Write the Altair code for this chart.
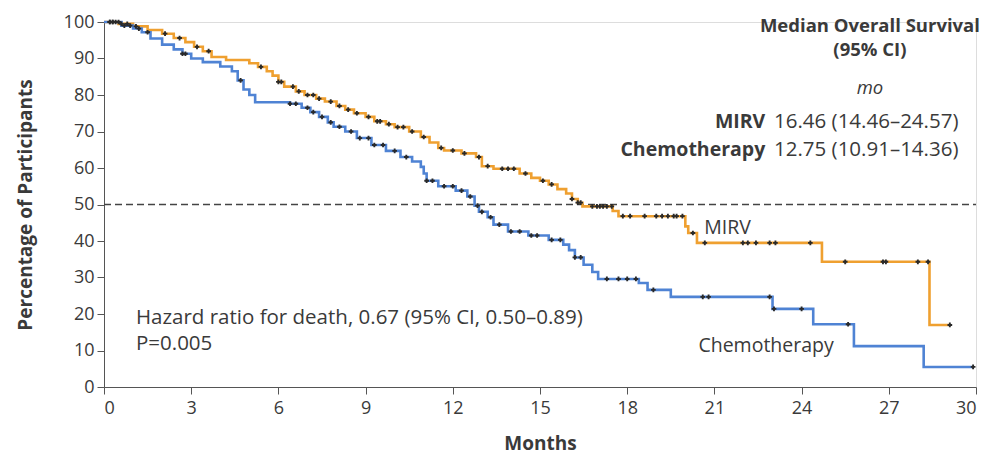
import altair as alt
import pandas as pd
import bisect

# ---- Kaplan-Meier step data (months, % surviving) ----
mirv_t = [0, 0.5, 1.0, 1.5, 2.0, 2.4, 2.8, 3.1, 3.4, 3.7, 4.2, 5.0, 5.3, 5.6, 5.8, 6.0, 6.2, 6.6,
          6.9, 7.3, 7.6, 8.0, 8.3, 8.6, 9.0, 9.3, 9.7, 10.0, 10.5, 10.9, 11.2, 11.5, 11.7, 12.3,
          12.8, 13.0, 13.4, 14.3, 14.7, 15.0, 15.3, 15.6, 15.9, 16.1, 16.3, 16.46, 17.5, 17.7,
          20.0, 20.1, 20.4, 24.7, 28.4, 29.1]
mirv_s = [100, 99.5, 98.8, 97.8, 96.8, 95.6, 94.5, 93.2, 92.0, 90.4, 89.6, 88.7, 87.7, 86.5, 85.3,
          83.6, 82.3, 81.0, 80.0, 79.0, 78.2, 77.0, 76.0, 75.0, 74.0, 72.8, 72.0, 71.2, 70.0, 68.5,
          67.0, 65.5, 64.8, 64.0, 63.0, 60.5, 59.8, 58.5, 57.3, 56.5, 55.5, 54.2, 53.0, 51.5, 50.5,
          49.5, 48.2, 46.8, 44.0, 42.2, 39.5, 34.3, 17.0, 17.0]

chemo_t = [0, 0.6, 1.0, 1.3, 1.6, 2.0, 2.4, 2.7, 3.0, 3.4, 4.0, 4.4, 4.6, 4.8, 5.0, 5.2, 6.4, 6.8,
           7.1, 7.4, 7.7, 7.9, 8.3, 8.7, 9.2, 9.7, 10.2, 10.6, 10.9, 11.0, 11.1, 11.5, 12.1, 12.5,
           12.75, 12.9, 13.2, 13.4, 13.9, 14.6, 15.3, 15.8, 16.0, 16.2, 16.5, 16.8, 17.0, 18.4,
           18.7, 19.5, 23.0, 24.4, 25.8, 28.2, 29.9]
chemo_s = [100, 99.0, 98.2, 97.2, 95.5, 93.8, 92.5, 91.3, 90.0, 89.0, 87.8, 86.5, 84.0, 81.5, 80.0,
           78.0, 77.6, 76.5, 75.3, 74.0, 72.5, 71.3, 70.0, 68.2, 66.3, 64.7, 63.0, 61.8, 60.3, 58.5,
           56.5, 55.0, 53.8, 52.2, 49.7, 48.0, 46.5, 44.5, 42.6, 41.5, 40.3, 39.0, 37.5, 35.5, 33.5,
           31.5, 29.6, 28.5, 26.6, 24.7, 21.4, 17.2, 11.2, 5.5, 5.5]

# ---- censoring times (months) ----
mirv_cens = [0.2, 0.3, 0.4, 0.6, 0.8, 1.1, 2.1, 2.6, 3.2, 3.6, 5.4, 6.0, 6.1, 6.5, 6.7, 7.0, 7.2,
             7.4, 7.8, 8.1, 8.4, 8.7, 9.1, 9.4, 9.5, 9.8, 10.1, 10.3, 10.6, 11.0, 11.6, 12.0, 12.4,
             12.9, 13.2, 13.7, 13.9, 14.1, 14.5, 15.1, 15.4, 16.1, 16.3, 16.4, 16.8, 16.96, 17.06,
             17.17, 17.3, 17.47, 17.85, 18.1, 18.6, 19.0, 19.2, 19.4, 19.6, 19.7, 19.9, 20.26,
             20.67, 21.98, 22.15, 22.43, 22.9, 23.1, 24.3, 25.5, 26.8, 26.9, 28.0, 28.35, 29.1]
chemo_cens = [0.2, 0.3, 0.5, 0.7, 0.9, 1.2, 1.5, 2.7, 2.8, 4.7, 6.4, 6.6, 7.0, 7.2, 7.5, 7.8, 8.1,
              8.5, 8.8, 9.1, 9.3, 9.6, 10.0, 10.4, 11.1, 11.3, 11.7, 12.0, 12.3, 12.6, 12.85, 13.0,
              13.3, 13.6, 14.0, 14.3, 14.7, 14.9, 15.4, 15.7, 16.2, 16.4, 17.3, 17.7, 18.0, 18.3,
              18.9, 20.6, 20.8, 22.9, 23.05, 24.0, 25.6, 29.9]

ARMS = ["MIRV", "Chemotherapy"]
COLORS = ["#EFA030", "#4F83D4"]


def surv_at(ts, ss, t):
    i = bisect.bisect_right(ts, t) - 1
    return ss[max(i, 0)]


curve = pd.DataFrame(
    [{"arm": "MIRV", "t": t, "s": s} for t, s in zip(mirv_t, mirv_s)]
    + [{"arm": "Chemotherapy", "t": t, "s": s} for t, s in zip(chemo_t, chemo_s)]
)
cens = pd.DataFrame(
    [{"arm": "MIRV", "t": t, "s": surv_at(mirv_t, mirv_s, t)} for t in mirv_cens]
    + [{"arm": "Chemotherapy", "t": t, "s": surv_at(chemo_t, chemo_s, t)} for t in chemo_cens]
)
one = pd.DataFrame({"k": [0]})

FONT = "Open Sans"
TXT = "#3a3a3a"

xs = alt.Scale(domain=[0, 30], nice=False, zero=True)
ys = alt.Scale(domain=[0, 100], nice=False)

xax = alt.Axis(values=list(range(0, 31, 3)), title="Months", grid=False, labelFontSize=18,
               titleFontSize=19, titleFontWeight="bold", labelPadding=5, titlePadding=17,
               tickSize=7, domainColor="#555", tickColor="#555", labelColor=TXT, titleColor=TXT,
               labelFont=FONT, titleFont=FONT, labelOverlap=False)
yax = alt.Axis(values=list(range(0, 101, 10)), title="Percentage of Participants", grid=False,
               labelFontSize=18, titleFontSize=19, titleFontWeight="bold", labelPadding=3,
               titlePadding=28, tickSize=7, domainColor="#555", tickColor="#555",
               labelColor=TXT, titleColor=TXT, labelFont=FONT, titleFont=FONT, labelOverlap=False)

lines = alt.Chart(curve).mark_line(interpolate="step-after", strokeWidth=2.6).encode(
    x=alt.X("t:Q", scale=xs, axis=xax),
    y=alt.Y("s:Q", scale=ys, axis=yax),
    color=alt.Color("arm:N", scale=alt.Scale(domain=ARMS, range=COLORS), legend=None),
    detail="arm:N",
)

marks = alt.Chart(cens).mark_point(shape="cross", filled=True, size=22, color="#2a2a2a",
                                   opacity=1).encode(
    x=alt.X("t:Q", scale=xs, axis=xax), y=alt.Y("s:Q", scale=ys, axis=yax)
)

dash = alt.Chart(one).mark_rule(strokeDash=[7, 4], color="#444", strokeWidth=1.3).encode(
    x=alt.XDatum(0, scale=xs, axis=xax), x2=alt.X2Datum(30), y=alt.YDatum(50, scale=ys, axis=yax)
)


def txt(s, x, y, size=19, weight="normal", align="left", style="normal"):
    return alt.Chart(one).mark_text(
        text=s, font=FONT, fontSize=size, fontWeight=weight, align=align, baseline="middle",
        fontStyle=style, color=TXT
    ).encode(x=alt.XDatum(x, scale=xs, axis=xax), y=alt.YDatum(y, scale=ys, axis=yax))


annots = [
    txt("MIRV", 20.65, 43.5, size=19.5),
    txt("Chemotherapy", 20.45, 11.3, size=19.5),
    txt("Hazard ratio for death, 0.67 (95% CI, 0.50\u20130.89)", 1.1, 18.8, size=20.5),
    txt("P=0.005", 1.1, 11.8, size=20.5),
    txt("Median Overall Survival", 26.35, 98.8, size=18.5, weight="bold", align="center"),
    txt("(95% CI)", 26.35, 92.3, size=18.5, weight="bold", align="center"),
    txt("mo", 26.35, 81.9, size=18.5, align="center", style="italic"),
    txt("MIRV", 22.75, 72.6, size=19.5, weight="bold", align="right"),
    txt("Chemotherapy", 22.75, 64.9, size=19.5, weight="bold", align="right"),
    txt("16.46 (14.46\u201324.57)", 23.05, 72.6, size=20.5),
    txt("12.75 (10.91\u201314.36)", 23.05, 64.9, size=20.5),
]

chart = alt.layer(dash, lines, marks, *annots).properties(
    width=872, height=365,
    autosize=alt.AutoSizeParams(type="none"),
    padding={"left": 96, "top": 14, "right": 24, "bottom": 68},
).configure_view(stroke=None).configure(background="white")

chart.save("out.html", embed_options={"renderer": "svg", "actions": False})
